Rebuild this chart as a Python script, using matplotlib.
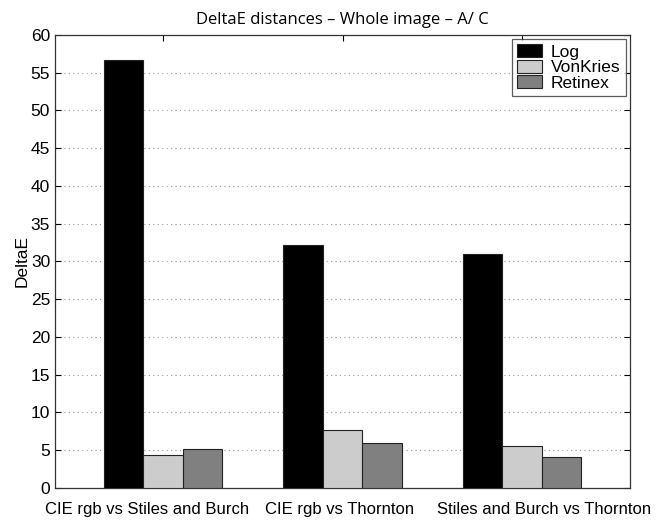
import matplotlib.pyplot as plt
import matplotlib.transforms as mtransforms
import numpy as np

groups = ['CIE rgb vs Stiles and Burch', 'CIE rgb vs Thornton', 'Stiles and Burch vs Thornton']
log_vals = [56.7, 32.2, 31.0]
vonkries_vals = [4.4, 7.6, 5.55]
retinex_vals = [5.2, 5.9, 4.05]

series = [('Log', log_vals, '#000000'),
          ('VonKries', vonkries_vals, '#cccccc'),
          ('Retinex', retinex_vals, '#808080')]

plt.rcParams['font.family'] = ['Liberation Sans', 'DejaVu Sans']

fig = plt.figure(figsize=(6.67, 5.2), dpi=100)
ax = fig.add_axes([0.0825, 0.062, 0.862, 0.871])

x = np.arange(1, len(groups) + 1)
w = 0.22
for i, (name, vals, col) in enumerate(series):
    ax.bar(x + (i - 1) * w, vals, w, color=col, edgecolor='#222222',
           linewidth=0.8, label=name, zorder=3)

ax.set_xlim(0.4, 3.6)
ax.set_ylim(0, 60)
ax.set_yticks(range(0, 61, 5))
ax.set_xticks(x)
ax.set_xticklabels(groups, fontsize=12)
ax.tick_params(axis='y', labelsize=12.5, direction='in', right=True, length=4)
ax.tick_params(axis='x', direction='in', top=True, length=4, pad=10)
ax.yaxis.grid(True, linestyle=(0, (1, 3)), color='#999999', linewidth=0.8, zorder=0)
for s in ax.spines.values():
    s.set_color('#333333')
    s.set_linewidth(0.9)

# spread the long group labels apart so they don't collide
shifts = [-0.16, -0.03, 0.22]
for lab, dx in zip(ax.get_xticklabels(), shifts):
    lab.set_transform(lab.get_transform() +
                      mtransforms.ScaledTranslation(dx, 0, fig.dpi_scale_trans))

ax.set_ylabel('DeltaE', fontsize=12.5, labelpad=1)
ax.set_title('DeltaE distances \u2013 Whole image \u2013 A/ C', fontsize=12,
             family=['Open Sans', 'DejaVu Sans'], pad=8)

leg = ax.legend(loc='upper right', fontsize=12.5, frameon=True, fancybox=False,
                edgecolor='#333333', borderpad=0.3, labelspacing=0.0,
                handlelength=1.45, handleheight=0.75, handletextpad=0.5,
                borderaxespad=0.25)
leg.get_frame().set_linewidth(0.9)

fig.savefig('out.png', dpi=100)
